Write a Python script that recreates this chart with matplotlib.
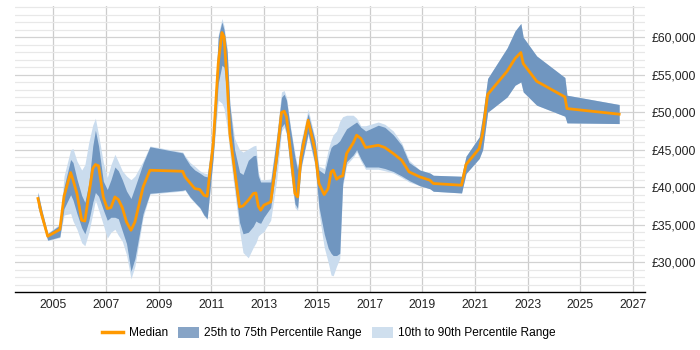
import numpy as np
import matplotlib
matplotlib.use("Agg")
import matplotlib.pyplot as plt
from matplotlib.patches import Patch
from matplotlib.lines import Line2D
from matplotlib.ticker import FuncFormatter

plt.rcParams['font.family'] = ['Liberation Sans', 'DejaVu Sans']

# dates as decimal years, salary percentiles in GBP
dates = [2004.42, 2004.55, 2004.79, 2005.25, 2005.41, 2005.66, 2005.75, 2005.9,
         2006.08, 2006.2, 2006.35, 2006.5, 2006.6, 2006.72, 2006.9, 2007.05,
         2007.19, 2007.34, 2007.47, 2007.62, 2007.78, 2007.95, 2008.1, 2008.41,
         2008.67, 2009.91, 2010.0, 2010.19, 2010.37, 2010.56, 2010.72, 2010.84,
         2011.07, 2011.26, 2011.4, 2011.48, 2011.6, 2011.7, 2011.88, 2012.07,
         2012.2, 2012.4, 2012.59, 2012.69, 2012.78, 2012.87, 2012.99, 2013.25,
         2013.48, 2013.66, 2013.76, 2013.85, 2014.0, 2014.17, 2014.27, 2014.4,
         2014.67, 2014.93, 2015.08, 2015.28, 2015.43, 2015.54, 2015.62, 2015.75,
         2015.87, 2015.98, 2016.13, 2016.38, 2016.51, 2016.67, 2016.85, 2017.33,
         2017.58, 2017.9, 2018.22, 2018.5, 2018.91, 2019.29, 2019.42, 2020.49,
         2020.66, 2021.16, 2021.29, 2021.48, 2022.22, 2022.52, 2022.74, 2022.83,
         2023.34, 2024.41, 2024.49, 2026.47]

p10 = [37300, 35700, 32900, 33300, 36300, 36500, 35500, 34400,
       32600, 32200, 34000, 36500, 38300, 37000, 35000, 33200,
       34000, 34400, 33600, 32800, 31000, 27800, 29500, 36000,
       39100, 39500, 39600, 38600, 37900, 37200, 36200, 35700,
       43900, 51600, 51200, 50500, 47800, 44500, 39500, 34200,
       31300, 30600, 32000, 32600, 33500, 33800, 34100, 35600,
       41000, 47500, 48000, 47000, 42000, 37300, 36900, 42400,
       46900, 42800, 36600, 32000, 30000, 28300, 28200, 29500,
       30500, 40000, 43000, 44000, 44700, 43500, 42400, 42400,
       42200, 41900, 41300, 40700, 40200, 39800, 39470, 39240,
       41830, 43830, 45000, 50000, 52040, 53600, 54040, 52710,
       50940, 49470, 48580, 48490]

p25 = [37400, 35800, 32950, 33400, 37160, 39000, 38300, 36500,
       34600, 33800, 35500, 38000, 39300, 38800, 37000, 35600,
       36000, 36000, 35800, 34200, 32500, 28800, 30500, 36500,
       39200, 39600, 39700, 38710, 38000, 37300, 36300, 35830,
       44040, 53830, 56270, 56000, 52000, 46000, 40500, 35300,
       33800, 34000, 34800, 35500, 35300, 35200, 36000, 37300,
       43100, 48000, 48500, 47200, 42500, 37800, 37200, 42700,
       47200, 43160, 37400, 33800, 31900, 31200, 30900, 30900,
       31200, 40500, 43400, 44300, 45000, 43800, 42700, 42700,
       42500, 42100, 41500, 40900, 40200, 39800, 39470, 39240,
       41830, 43830, 45000, 50000, 52040, 53600, 54040, 52710,
       50940, 49470, 48580, 48490]

median = [38500, 36500, 33470, 34370, 38800, 41960, 41000, 39170,
          35600, 35500, 39000, 42500, 43030, 42850, 38700, 37160,
          37300, 38710, 38370, 37300, 35380, 34270, 35380, 40040,
          42270, 42130, 41380, 40580, 39830, 39700, 38940, 38800,
          45830, 56490, 60620, 60040, 54000, 47160, 42300, 37380,
          37510, 38270, 39160, 39240, 37470, 36940, 37610, 38050,
          44040, 49960, 50140, 49380, 44940, 39160, 38710, 44040,
          48940, 44940, 40500, 39030, 39830, 42040, 42270, 41070,
          41400, 41510, 44500, 45910, 46940, 46500, 45300, 45600,
          45300, 44500, 43600, 42050, 41380, 40940, 40500, 40270,
          43030, 45160, 47160, 52360, 55470, 57160, 57960, 56490,
          54130, 52040, 50490, 49740]

p75 = [39300, 37200, 33830, 34940, 40040, 43700, 43300, 41100,
       38900, 38000, 40500, 45500, 47600, 45500, 40800, 39700,
       41000, 42700, 42200, 41000, 39500, 38500, 40000, 43200,
       45400, 44580, 44000, 42940, 42300, 41900, 41500, 41380,
       47200, 60040, 62040, 61000, 58000, 51000, 45000, 42000,
       41700, 43600, 44200, 44270, 41500, 40700, 40700, 40700,
       46700, 52000, 52400, 51600, 47800, 44000, 42300, 45800,
       49800, 46270, 42300, 41800, 44000, 45300, 45600, 45800,
       46200, 46900, 47800, 48400, 48700, 48000, 47500, 48270,
       48000, 47000, 45600, 43300, 42300, 41900, 41600, 41470,
       44140, 46710, 49500, 54500, 58580, 60840, 61830, 60000,
       57500, 54630, 52270, 51030]

p90 = [39400, 37300, 33900, 35100, 41500, 45000, 45160, 43500,
       42300, 43000, 46000, 48300, 49200, 47000, 43300, 41300,
       43000, 44400, 43400, 42200, 41500, 41000, 41500, 43500,
       45500, 44700, 44200, 43300, 42800, 42200, 41900, 41800,
       47400, 60300, 62500, 61500, 58500, 51300, 46500, 45000,
       44700, 45100, 45500, 45600, 42000, 41000, 41000, 41100,
       47000, 52700, 52900, 52000, 48100, 44500, 42700, 46100,
       50400, 46600, 42800, 42500, 45000, 46300, 47000, 47500,
       48800, 49400, 49600, 49600, 49200, 48200, 48200, 48700,
       48400, 47500, 45900, 43600, 42300, 41900, 41600, 41470,
       44140, 46710, 49500, 54500, 58580, 60840, 61830, 60000,
       57500, 54630, 52270, 51030]

col_dark = '#7096c0'
col_light = '#cadcee'
col_med = '#ff9900'

fig = plt.figure(figsize=(7, 3.5), dpi=100)
ax = fig.add_axes([15/700, 1-292.3/350, (645-15)/700, (292.3-5.7)/350])

ax.fill_between(dates, p10, p90, color=col_light, lw=0, zorder=2)
ax.fill_between(dates, p25, p75, color=col_dark, lw=0, zorder=3)
ax.plot(dates, median, color=col_med, lw=2, zorder=4)

ax.set_xlim(2003.55, 2027.45)
ax.set_ylim(26000, 64200)

ax.set_xticks(np.arange(2005, 2028, 2))
ax.set_yticks(np.arange(30000, 61000, 5000))
ax.set_yticks(np.arange(27000, 64001, 1000), minor=True)
ax.yaxis.set_major_formatter(FuncFormatter(lambda v, p: '£{:,.0f}'.format(v)))
ax.yaxis.tick_right()
ax.tick_params(axis='both', which='both', length=0, labelsize=8.7, colors='#222222')
ax.tick_params(axis='x', pad=5)
ax.tick_params(axis='y', pad=4.5)

ax.grid(True, axis='x', color='#cccccc', lw=0.9, zorder=0)
ax.grid(True, axis='y', which='major', color='#d2d2d2', lw=0.9, zorder=0)
ax.grid(True, axis='y', which='minor', color='#e8e8e8', lw=0.9, zorder=0)
ax.set_axisbelow(True)

for s in ['top', 'right', 'left']:
    ax.spines[s].set_visible(False)
ax.spines['bottom'].set_color('black')
ax.spines['bottom'].set_linewidth(1)

handles = [Line2D([0], [0], color=col_med, lw=2.5),
           Patch(facecolor='#87a4c6', edgecolor='none'),
           Patch(facecolor='#cfdfee', edgecolor='none')]
labels = ['Median', '25th to 75th Percentile Range', '10th to 90th Percentile Range']
fig.legend(handles, labels, loc='center', bbox_to_anchor=(329/700, 1-333/350),
           ncol=3, frameon=False, fontsize=8.6, handlelength=1.75, handleheight=1.05,
           handletextpad=0.45, columnspacing=0.85)

fig.savefig('out.png', dpi=100)
